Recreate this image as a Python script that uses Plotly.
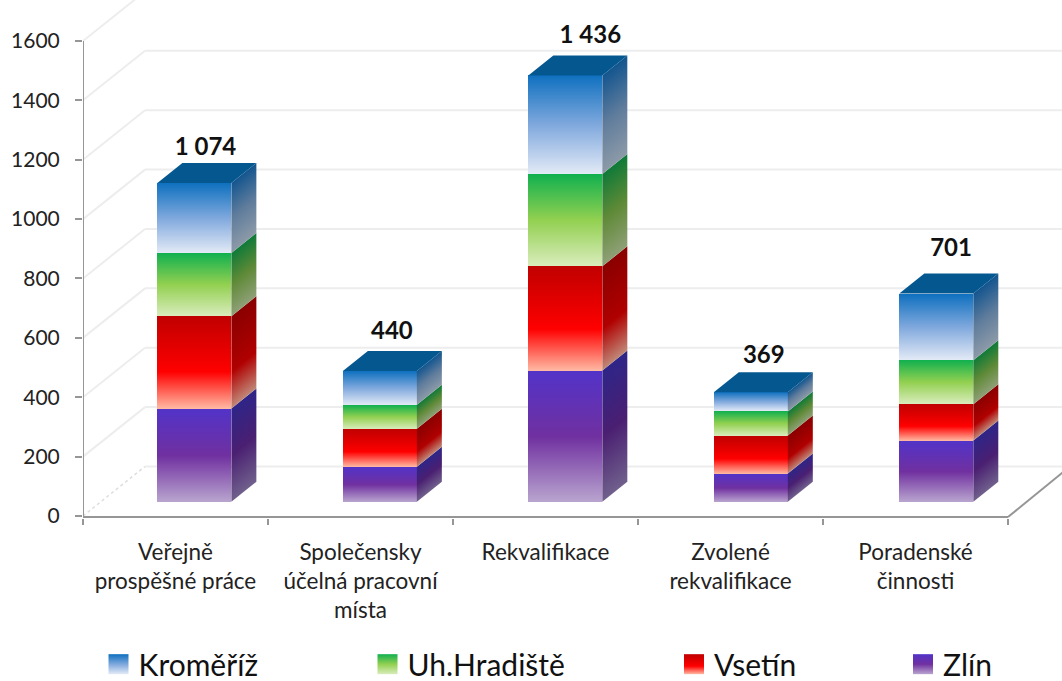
import json
import numpy as np
import plotly.graph_objects as go

categories = ["Veřejně<br>prospěšné práce", "Společensky<br>účelná pracovní<br>místa", "Rekvalifikace",
              "Zvolené<br>rekvalifikace", "Poradenské<br>činnosti"]
zlin = [314, 118, 442, 95, 206]
vsetin = [311, 128, 351, 128, 122]
uh_hradiste = [213, 81, 311, 81, 149]
kromeriz = [236, 113, 332, 65, 224]
total_labels = ["1 074", "440", "1 436", "369", "701"]
y_ticks = [0, 200, 400, 600, 800, 1000, 1200, 1400, 1600]

series = [("Zlín", zlin), ("Vsetín", vsetin), ("Uh.Hradiště", uh_hradiste), ("Kroměříž", kromeriz)]

# geometry of the fake 3-D view (axis units)
PX_X, PX_Y = 185.0, 0.2969
BAR_W = 74 / PX_X
BAR_SHIFT = 0.102
STEP = 1.0026
DX, DY = 25 / PX_X, 20 / PX_Y
WALL_DX, WALL_DY = 62 / PX_X, 49.5 / PX_Y
BASE = 48
LABEL_DX = [0.06, 0.065, 0.135, 0.07, 0.08]
LABEL_DY = [115, 128, 131, 118, 148]
FONT = "Lato, Carlito, sans-serif"

front = {
    "Zlín": [(0, "#5233C8"), (.5, "#7030A0"), (1, "#B9A5CF")],
    "Vsetín": [(0, "#C00000"), (.6, "#FF0000"), (1, "#FFBBA5")],
    "Uh.Hradiště": [(0, "#10B04F"), (.5, "#92D050"), (1, "#D9ECBC")],
    "Kroměříž": [(0, "#0E70BF"), (.5, "#7FA8DD"), (1, "#E3EAF6")],
}
side = {
    "Zlín": [(0, "#2E2588"), (.5, "#4A1F72"), (1, "#70608C")],
    "Vsetín": [(0, "#8A0000"), (.6, "#B00000"), (1, "#C08878")],
    "Uh.Hradiště": [(0, "#0F7A38"), (.5, "#5F8A37"), (1, "#8FA077")],
    "Kroměříž": [(0, "#13558F"), (.5, "#5F7C9C"), (1, "#8C9AA8")],
}
TOP_COLOR = "#04588F"

x = np.arange(5) * STEP + BAR_SHIFT
fig = go.Figure()

for name, vals in series:
    fig.add_trace(go.Bar(x=x, y=vals, name=name, width=BAR_W, yaxis="y2",
                         marker=dict(color=front[name][0][1], line=dict(width=0)), hoverinfo="skip"))

bottom = np.zeros(5)
for name, vals in series:
    v = np.array(vals, dtype=float)
    for i in range(5):
        xr = x[i] + BAR_W / 2
        lo, hi = bottom[i], bottom[i] + v[i]
        fig.add_trace(go.Scatter(x=[xr, xr + DX, xr + DX, xr, xr], y=[lo, lo + DY, hi + DY, hi, lo], yaxis="y2",
                                 mode="none", fill="toself", fillcolor=side[name][0][1],
                                 showlegend=False, hoverinfo="skip"))
    bottom = bottom + v

for i in range(5):
    xl, xr, t = x[i] - BAR_W / 2, x[i] + BAR_W / 2, bottom[i]
    fig.add_trace(go.Scatter(x=[xl, xl + DX, xr + DX, xr, xl], y=[t, t + DY, t + DY, t, t], yaxis="y2",
                             mode="none", fill="toself", fillcolor=TOP_COLOR,
                             showlegend=False, hoverinfo="skip"))

fig.add_trace(go.Scatter(x=x + np.array(LABEL_DX), y=bottom + np.array(LABEL_DY), yaxis="y2", mode="text", text=total_labels,
                         textfont=dict(family=FONT, size=24, color="#111111", weight="bold"),
                         showlegend=False, hoverinfo="skip"))

x_left, x_end = -0.5, 4.5
x_max = x_left + (1062 - 83) / PX_X
y_max = 516 / PX_Y
y_min = -2 / PX_Y
floor_y = -1 / PX_Y
GRID = dict(color="#EDEDED", width=2)
AXIS = dict(color="#969696", width=2)
shapes = []
for t in y_ticks:
    sx = [x_left, x_left + WALL_DX, x_max]
    sy = [t, t + WALL_DY, t + WALL_DY]
    shapes.append(dict(type="line", xref="x", yref="y", x0=sx[0], y0=sy[0], x1=sx[1], y1=sy[1], layer="below",
                       line=dict(color="#DDDDDD", width=1.5, dash="dot") if t == 0 else GRID))
    shapes.append(dict(type="line", xref="x", yref="y", x0=sx[1], y0=sy[1], x1=sx[2], y1=sy[2], layer="below", line=GRID))
shapes.append(dict(type="line", xref="x", yref="y", x0=x_end, y0=floor_y, x1=x_end + WALL_DX, y1=WALL_DY, layer="below", line=AXIS))
shapes.append(dict(type="line", xref="x", yref="y", x0=x_left, y0=floor_y, x1=x_end, y1=floor_y, layer="below", line=AXIS))
shapes.append(dict(type="line", xref="x", yref="y", x0=x_left, y0=floor_y, x1=x_left, y1=1600, layer="below", line=AXIS))

fig.update_layout(
    width=1062, height=681, margin=dict(l=83, r=0, t=0, b=163, autoexpand=False),
    paper_bgcolor="white", plot_bgcolor="white", barmode="stack", bargap=0,
    font=dict(family=FONT, size=20, color="#222222"),
    shapes=shapes,
    showlegend=True,
    legend=dict(orientation="h", traceorder="reversed", x=-83 / 979, y=-0.232, xanchor="left", yanchor="top",
                font=dict(family=FONT, size=30, color="#111111")),
    xaxis=dict(range=[x_left, x_max], tickmode="array", tickvals=list(range(5)), ticktext=categories,
               showgrid=False, zeroline=False, showline=False, ticks="", ticklabelstandoff=18, automargin=False,
               minor=dict(ticks="outside", tick0=-0.5, dtick=1, ticklen=6, tickwidth=2, tickcolor="#969696", showgrid=False),
               tickfont=dict(family=FONT, size=22.5, color="#222222")),
    yaxis=dict(range=[y_min, y_max], tickmode="array", tickvals=y_ticks, showgrid=False, zeroline=False, showline=False,
               ticks="outside", ticklen=7, tickwidth=2, tickcolor="#969696", ticklabelstandoff=11, automargin=False,
               tickfont=dict(family=FONT, size=21, color="#222222")),
    yaxis2=dict(range=[y_min - BASE, y_max - BASE], overlaying="y", visible=False),
)

names = [n for n, _ in series]
post = """
document.body.style.margin='0';
var gd=document.getElementsByClassName('plotly-graph-div')[0];
var NS='http://www.w3.org/2000/svg';
var front=%s, side=%s, names=%s;
var svg=gd.querySelector('svg.main-svg');
var defs=svg.querySelector('defs');
function grad(id,stops,coords,user){
  var g=document.createElementNS(NS,'linearGradient');g.setAttribute('id',id);
  if(user)g.setAttribute('gradientUnits','userSpaceOnUse');
  for(var k in coords)g.setAttribute(k,coords[k]);
  stops.forEach(function(s){var e=document.createElementNS(NS,'stop');e.setAttribute('offset',s[0]);e.setAttribute('stop-color',s[1]);g.appendChild(e);});
  defs.appendChild(g);
}
names.forEach(function(n,i){grad('gf'+i,front[n],{x1:0,y1:0,x2:0,y2:1},false);});
gd.querySelectorAll('.barlayer .trace').forEach(function(tr,i){
  tr.querySelectorAll('path').forEach(function(p){p.style.fill='url(#gf'+i+')';});
});
var fills=gd.querySelectorAll('.scatterlayer .js-fill');
fills.forEach(function(p,j){
  if(j>=names.length*5)return;
  var n=names[Math.floor(j/5)], b=p.getBBox(), H=b.height-20, k=H/1.64;
  grad('gs'+j,side[n],{x1:b.x,y1:b.y+20,x2:b.x+0.8*k,y2:b.y+20+k},true);
  p.style.fill='url(#gs'+j+')';
});
var lx=[98.5,367.5,674,903];
var order={'Kroměříž':0,'Uh.Hradiště':1,'Vsetín':2,'Zlín':3};
gd.querySelectorAll('.legend .traces').forEach(function(t){
  var name=t.querySelector('.legendtext').textContent, i=order[name], idx=names.indexOf(name);
  var m=/translate\\(([^,]+),\\s*([^)]+)\\)/.exec(t.getAttribute('transform'));
  t.setAttribute('transform','translate('+lx[i]+','+m[2]+')');
  t.querySelectorAll('.legendpoints path').forEach(function(p){
    p.setAttribute('d','M10,10H-10V-10H10Z');p.style.fill='url(#gf'+idx+')';
  });
});
var lg=gd.querySelector('.legend');
lg.removeAttribute('clip-path');
lg.querySelectorAll('[clip-path]').forEach(function(e){e.removeAttribute('clip-path');});
""" % (json.dumps(front), json.dumps(side), json.dumps(names, ensure_ascii=False))

fig.write_html("out.html", post_script=post, config=dict(displayModeBar=False))
